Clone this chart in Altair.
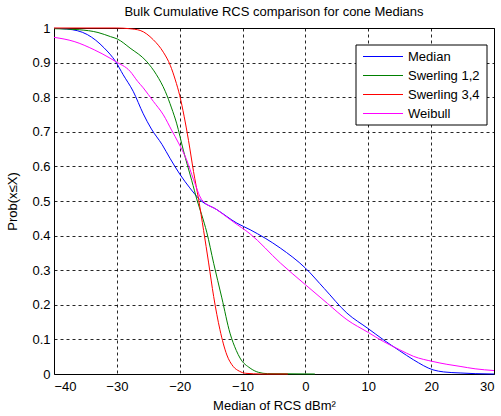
import altair as alt
import pandas as pd

# ---- data ----
series_names = ["Median", "Swerling 1,2", "Swerling 3,4", "Weibull"]
series_colors = ["#0000ff", "#008000", "#ff0000", "#ff00ff"]

median_x = [-40, -37.9, -34.7, -32, -30.2, -29, -27.4, -25.8, -24.5, -22.8, -21.5, -20, -18.4, -16.8,
            -14.1, -10.9, -8.8, -4, 0, 3, 6.6, 10, 12.4, 15, 17.2, 20.3, 22, 24.6, 27, 30]
median_y = [0.999, 0.997, 0.981, 0.942, 0.903, 0.865, 0.817, 0.752, 0.708, 0.663, 0.622, 0.578, 0.538, 0.504,
            0.475, 0.436, 0.417, 0.364, 0.306, 0.247, 0.176, 0.131, 0.099, 0.067, 0.041, 0.012, 0.006, 0.003, 0.001, 0.0]

sw12_x = [-40, -36, -33, -31, -29.9, -27.9, -25.3, -23.7, -22.3, -21.3, -20.5, -19.4, -18.1, -17.2,
          -16.5, -15.7, -14.6, -13.3, -12, -11, -10.4, -8.8, -7.5, -6, 1.5]
sw12_y = [0.998, 0.995, 0.987, 0.975, 0.968, 0.942, 0.904, 0.865, 0.817, 0.769, 0.725, 0.645, 0.56, 0.5,
          0.46, 0.41, 0.32, 0.22, 0.118, 0.068, 0.046, 0.017, 0.005, 0.001, 0.0]

sw34_x = [-40, -30, -28, -26.3, -24.2, -22.6, -21.5, -20.7, -20, -19.3, -18.6, -17.8, -17, -16.2,
          -15.4, -14.6, -13.6, -12.5, -11.5, -10.5, -9.5, -7, -2.8]
sw34_y = [1.0, 1.0, 0.998, 0.993, 0.966, 0.93, 0.892, 0.85, 0.805, 0.745, 0.675, 0.585, 0.505, 0.415,
          0.321, 0.224, 0.128, 0.055, 0.022, 0.008, 0.002, 0.0, 0.0]

weibull_x = [-40, -36.8, -33.6, -31.1, -30.2, -27.9, -26.7, -25.8, -24.2, -22.6, -21.3, -20.2, -18.9, -17.8,
             -16.5, -14.1, -11.5, -8.8, -4, 0, 3.5, 6.6, 10, 12.4, 15, 17.2, 20.3, 22.5, 24.6, 27, 30]
weibull_y = [0.973, 0.961, 0.937, 0.913, 0.903, 0.875, 0.846, 0.827, 0.788, 0.749, 0.705, 0.668, 0.619, 0.562,
             0.504, 0.475, 0.44, 0.405, 0.321, 0.258, 0.204, 0.157, 0.12, 0.094, 0.07, 0.051, 0.036, 0.028, 0.022, 0.015, 0.010]

x_ticks = [-40, -30, -20, -10, 0, 10, 20, 30]
y_ticks = [0, 0.1, 0.2, 0.3, 0.4, 0.5, 0.6, 0.7, 0.8, 0.9, 1]

rows = []
for name, xs, ys in zip(series_names,
                        [median_x, sw12_x, sw34_x, weibull_x],
                        [median_y, sw12_y, sw34_y, weibull_y]):
    for xv, yv in zip(xs, ys):
        rows.append({"series": name, "x": xv, "y": yv})
df = pd.DataFrame(rows)
legend_df = pd.DataFrame({"series": series_names})

FONT = "Liberation Sans"
color_scale = alt.Scale(domain=series_names, range=series_colors)

lines = alt.Chart(df).mark_line(strokeWidth=1, interpolate="monotone").encode(
    x=alt.X("x:Q",
            scale=alt.Scale(domain=[-40, 30], nice=False, zero=False),
            axis=alt.Axis(values=x_ticks, title="Median of RCS dBm²", format="d",
                          labelPadding=6, titlePadding=6)),
    y=alt.Y("y:Q",
            scale=alt.Scale(domain=[0, 1], nice=False),
            axis=alt.Axis(values=y_ticks, title="Prob(x≤X)", format="~g",
                          labelPadding=4, titlePadding=12)),
    color=alt.Color("series:N", scale=color_scale, legend=None),
    detail="series:N",
)

# legend (box, line samples, labels)
legend_y = alt.Y("series:N",
                 scale=alt.Scale(type="point", domain=series_names, range=[28.5, 85.5], padding=0),
                 axis=None)

legend_box = alt.Chart(legend_df).mark_rect(fill="white", stroke="black", strokeWidth=1).encode(
    x=alt.value(302), x2=alt.value(433), y=alt.value(17), y2=alt.value(97)
).transform_filter(alt.datum.series == series_names[0])

legend_lines = alt.Chart(legend_df).mark_rule(strokeWidth=1).encode(
    x=alt.value(309), x2=alt.value(349), y=legend_y,
    color=alt.Color("series:N", scale=color_scale, legend=None),
)

legend_text = alt.Chart(legend_df).mark_text(
    align="left", baseline="middle", font=FONT, fontSize=13, color="black"
).encode(
    x=alt.value(354), y=legend_y, text="series:N"
)

chart = alt.layer(lines, legend_box, legend_lines, legend_text).resolve_scale(
    y="independent"
).properties(
    width=440, height=346,
    title=alt.TitleParams("Bulk Cumulative RCS comparison for cone Medians",
                          fontSize=13, font=FONT, fontWeight="normal",
                          color="black", offset=3, anchor="middle", frame="group"),
    autosize=alt.AutoSizeParams(type="none"),
    padding={"left": 54, "top": 28, "right": 7, "bottom": 42},
).configure(
    background="white"
).configure_view(
    stroke="black", strokeWidth=1
).configure_axis(
    grid=True, gridColor="black", gridDash=[3, 3], gridOpacity=0.85, gridWidth=1,
    domain=False, ticks=False,
    labelFont=FONT, labelFontSize=13, labelColor="black",
    titleFont=FONT, titleFontSize=13, titleFontWeight="normal", titleColor="black",
)

chart.save("out.html", embed_options={"renderer": "svg", "actions": False})
